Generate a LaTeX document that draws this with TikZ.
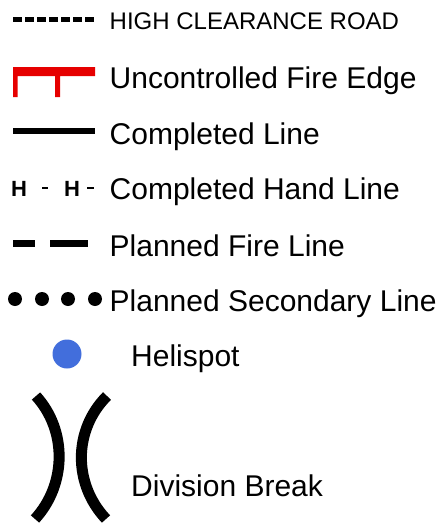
\documentclass[tikz,border=0pt]{standalone}
\usepackage{fontspec}
\setmainfont{Liberation Sans}
\definecolor{fireRed}{RGB}{230,0,0}
\definecolor{heliBlue}{RGB}{66,110,220}
\begin{document}
\begin{tikzpicture}[x=1pt,y=-1pt,
    legend/.style={anchor=base west,inner sep=0pt,font=\fontsize{30}{32}\selectfont},
    smalllegend/.style={anchor=base west,inner sep=0pt,font=\fontsize{24}{26}\selectfont},
    handmark/.style={anchor=base west,inner sep=0pt,font=\fontsize{22}{24}\selectfont\bfseries}]
      \useasboundingbox (0,0) rectangle (442,527);
      % symbols
      \draw[line width=5pt,dash pattern=on 9pt off 3pt] (13,20) -- (95,20);
      \fill[fireRed] (13,67) rectangle (95,76) (13,67) rectangle (17.5,97) (55,67) rectangle (60,97);
      \draw[line width=6pt] (13,131) -- (95,131);
      \node[handmark] (h1) at (11,196) {H};
      \node[handmark] (h2) at (64,196) {H};
      \draw[line width=2.5pt] (42,188) -- (48,188) (87,188) -- (94,188);
      \draw[line width=7pt] (13,243) -- (35,243) (50,243) -- (88,243);
      \foreach \x in {15,42,68,95}
        \fill (\x,299) circle (7);
      \fill[heliBlue] (67,354) circle (14.5);
      \draw[line width=11pt] (36,396) .. controls (67,430) and (67,484) .. (35,519);
      \draw[line width=11pt] (107,396) .. controls (73,430) and (73,484) .. (106,519);
      % labels
      \node[smalllegend] (road) at (109.5,29.5) {HIGH CLEARANCE ROAD};
      \node[legend] (edge) at (109.5,88.5) {Uncontrolled Fire Edge};
      \node[legend] (done) at (109.5,144) {Completed Line};
      \node[legend] (hand) at (109.5,199.5) {Completed Hand Line};
      \node[legend] (plan) at (109.5,256) {Planned Fire Line};
      \node[legend] (second) at (109.5,311.5) {Planned Secondary Line};
      \node[legend] (heli) at (131,366) {Helispot};
      \node[legend] (div) at (131,496) {Division Break};
\end{tikzpicture}
\end{document}
